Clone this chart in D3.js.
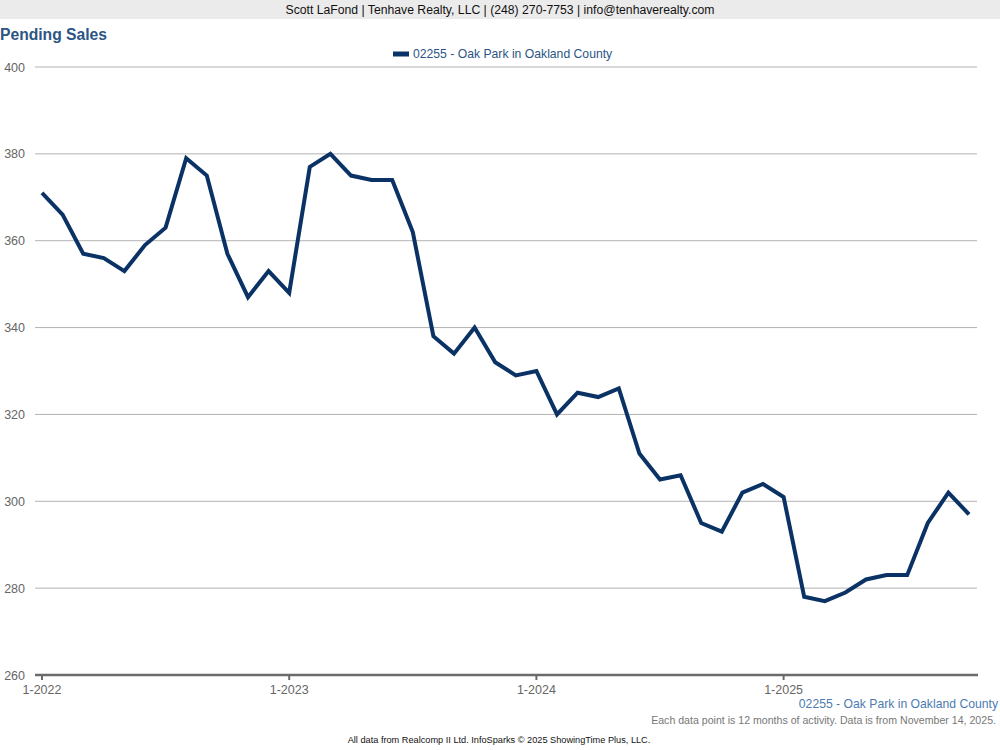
<!DOCTYPE html>
<html><head><meta charset="utf-8">
<script src="https://cdn.jsdelivr.net/npm/d3@7"></script>
<style>body{margin:0;background:#fff;}svg{display:block;font-family:"Liberation Sans",Arial,sans-serif;}</style>
</head><body>
<svg id="c" width="1000" height="750"></svg>
<script>
const months = ["1-2022","2-2022","3-2022","4-2022","5-2022","6-2022","7-2022","8-2022","9-2022","10-2022","11-2022","12-2022",
"1-2023","2-2023","3-2023","4-2023","5-2023","6-2023","7-2023","8-2023","9-2023","10-2023","11-2023","12-2023",
"1-2024","2-2024","3-2024","4-2024","5-2024","6-2024","7-2024","8-2024","9-2024","10-2024","11-2024","12-2024",
"1-2025","2-2025","3-2025","4-2025","5-2025","6-2025","7-2025","8-2025","9-2025","10-2025"];
const values = [371,366,357,356,353,359,363,379,375,357,347,353,
348,377,380,375,374,374,362,338,334,340,332,329,
330,320,325,324,326,311,305,306,295,293,302,304,
301,278,277,279,282,283,283,295,302,297];
const yTicks = [260,280,300,320,340,360,380,400];
const xTickLabels = ["1-2022","1-2023","1-2024","1-2025"];
const seriesName = "02255 - Oak Park in Oakland County";

const svg = d3.select("#c");
svg.append("rect").attr("x",0).attr("y",0).attr("width",1000).attr("height",19).attr("fill","#ebebeb");
svg.append("text").attr("x",500).attr("y",14).attr("text-anchor","middle").attr("font-size",12.5)
  .attr("textLength",429).attr("lengthAdjust","spacingAndGlyphs").attr("fill","#111")
  .text("Scott LaFond | Tenhave Realty, LLC | (248) 270-7753 | info@tenhaverealty.com");
svg.append("text").attr("x",0).attr("y",40).attr("font-size",16).attr("font-weight","bold")
  .attr("textLength",107).attr("lengthAdjust","spacingAndGlyphs").attr("fill","#2b5584").text("Pending Sales");

const x = d3.scaleLinear().domain([0, months.length-1]).range([42, 969]);
const y = d3.scaleLinear().domain([260,400]).range([675,67]);

// grid
svg.append("g").selectAll("line").data(yTicks.filter(d=>d>260)).join("line")
  .attr("x1",35).attr("x2",977).attr("y1",d=>y(d)).attr("y2",d=>y(d))
  .attr("stroke","#b3b3b3").attr("stroke-width",1);
svg.append("g").selectAll("text").data(yTicks).join("text")
  .attr("x",25).attr("y",d=>y(d)+4.5).attr("text-anchor","end").attr("font-size",12.5).attr("fill","#666").text(d=>d);

// x axis
svg.append("line").attr("x1",35).attr("x2",978).attr("y1",675).attr("y2",675).attr("stroke","#6b6b6b").attr("stroke-width",2.5);
const xt = xTickLabels.map(l=>months.indexOf(l));
svg.append("g").selectAll("line").data(xt).join("line")
  .attr("x1",d=>x(d)).attr("x2",d=>x(d)).attr("y1",675).attr("y2",680).attr("stroke","#6b6b6b").attr("stroke-width",2);
svg.append("g").selectAll("text").data(xt).join("text")
  .attr("x",d=>x(d)).attr("y",694).attr("text-anchor","middle").attr("font-size",12.5).attr("fill","#666").text(d=>months[d]);

// line
svg.append("path").datum(values).attr("fill","none").attr("stroke","#0b3265").attr("stroke-width",4)
  .attr("stroke-linejoin","miter").attr("d", d3.line().x((d,i)=>x(i)).y(d=>y(d)));

// legend
svg.append("line").attr("x1",393).attr("x2",409).attr("y1",54).attr("y2",54).attr("stroke","#0b3265").attr("stroke-width",5);
svg.append("text").attr("x",413).attr("y",58).attr("font-size",12.2).attr("fill","#2b5584").text(seriesName);

// footers
svg.append("text").attr("x",998).attr("y",708).attr("text-anchor","end").attr("font-size",12.2).attr("fill","#4d7bb0").text(seriesName);
svg.append("text").attr("x",996).attr("y",724).attr("text-anchor","end").attr("font-size",10.6).attr("fill","#777")
  .text("Each data point is 12 months of activity. Data is from November 14, 2025.");
svg.append("text").attr("x",499).attr("y",743).attr("text-anchor","middle").attr("font-size",9.2).attr("fill","#111")
  .text("All data from Realcomp II Ltd. InfoSparks © 2025 ShowingTime Plus, LLC.");
</script>
</body></html>
